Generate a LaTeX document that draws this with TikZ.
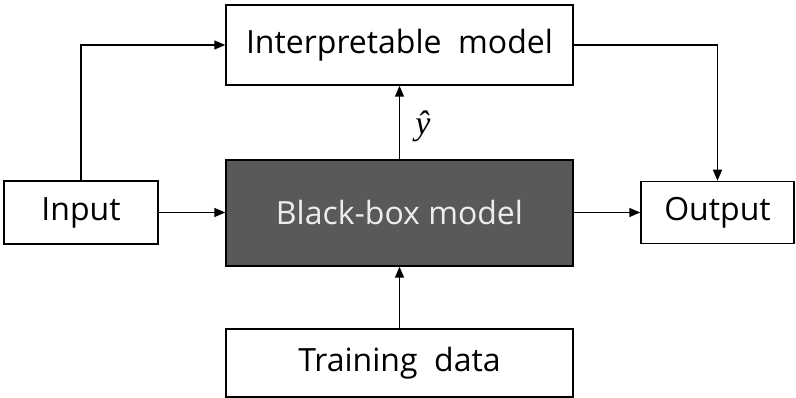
\documentclass[tikz,border=0pt]{standalone}
\usepackage{fontspec}
\setmainfont{Open Sans}
\newfontfamily\symfont{Liberation Serif}
\usetikzlibrary{arrows.meta}
\begin{document}
\begin{tikzpicture}[x=1pt,y=-1pt,
  box/.style={draw=black, line width=1.5pt, fill=white, inner sep=0pt},
  txt/.style={font=\fontsize{32}{36}\selectfont},
  conn/.style={line width=1.5pt, -{Triangle[length=11pt,width=9pt]}}]
\useasboundingbox (0,0) rectangle (796,398);
% boxes
\node[box, minimum width=347pt, minimum height=80pt] (interp) at (399.5,45) {};
\node[txt] at (interp) {Interpretable\ \ model};
\node[box, fill=black!65, minimum width=347pt, minimum height=106pt] (bb) at (399.5,213) {};
\node[txt, text=white!93!black] at (bb) {Black-box model};
\node[box, minimum width=154pt, minimum height=63pt] (in) at (81,212.5) {};
\node[txt] at (in) {Input};
\node[box, minimum width=153pt, minimum height=62pt] (out) at (717.5,212.5) {};
\node[txt] at (out) {Output};
\node[box, minimum width=347pt, minimum height=68pt] (train) at (399.5,363) {};
\node[txt] at (train) {Training\ \ data};
% connectors
\draw[conn] (in.north) |- (interp.west);
\draw[conn] (in.east) -- (in.east -| bb.west);
\draw[conn] (bb.north) -- (interp.south);
\node[inner sep=0pt, font=\symfont\itshape\fontsize{34}{38}\selectfont] (yhat) at (423,126) {ŷ};
\draw[conn] (interp.east) -| (out.north);
\draw[conn] (bb.east |- out.west) -- (out.west);
\draw[conn] (train.north) -- (bb.south);
\end{tikzpicture}
\end{document}
